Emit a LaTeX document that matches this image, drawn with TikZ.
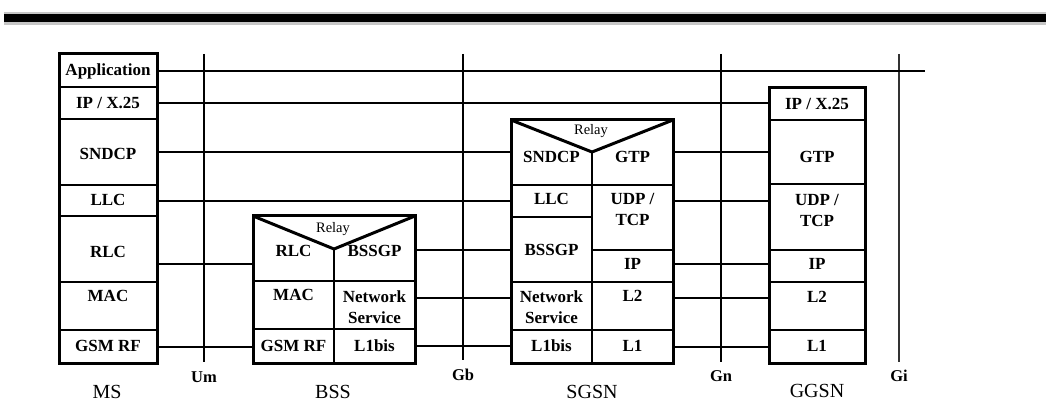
\documentclass[tikz,border=0pt]{standalone}
\usepackage{fontspec}
\setmainfont{Liberation Serif}
\begin{document}
\begin{tikzpicture}[x=1pt,y=-1pt,
  frame/.style={draw, line width=3pt, inner sep=0pt, outer sep=0pt},
  cellbox/.style={draw, line width=2.2pt, inner sep=0pt, outer sep=0pt},
  lbl/.style={font=\fontsize{17}{21}\selectfont\bfseries, align=center, inner sep=0pt},
  relay/.style={font=\fontsize{14.5}{16}\selectfont, inner sep=0pt},
  iflbl/.style={font=\fontsize{16.5}{18}\selectfont\bfseries, inner sep=0pt},
  nelbl/.style={font=\fontsize{20}{22}\selectfont, inner sep=0pt, anchor=base},
  conn/.style={line width=1.1pt},
  iface/.style={line width=1.8pt},
  vee/.style={line width=3pt, line join=miter}]
\useasboundingbox (0,0) rectangle (1046,403);
\newcommand\Cell[7]{%
  \node[cellbox, minimum width={(#4-#2)*1pt}, minimum height={(#5-#3)*1pt}] (#1) at ({(#2+#4)/2},{(#3+#5)/2}) {};
  \node[lbl] (#1-t) at ({(#2+#4)/2},#7) {#6};}
\newcommand\Frame[5]{%
  \node[frame, minimum width={(#4-#2)*1pt}, minimum height={(#5-#3)*1pt}] (#1) at ({(#2+#4)/2},{(#3+#5)/2}) {};}
% top bar
\fill[gray!45] (4,12) rectangle (1046,25);
\fill[black] (4,14) rectangle (1046,22);
% interfaces
\coordinate (um-top) at (204,54);  \coordinate (um-bot) at (204,362);
\coordinate (gb-top) at (463,54);  \coordinate (gb-bot) at (463,360);
\coordinate (gn-top) at (721,54);  \coordinate (gn-bot) at (721,362);
\coordinate (gi-top) at (899,54);  \coordinate (gi-bot) at (899,362);
\draw[iface] (um-top) -- (um-bot);
\draw[iface] (gb-top) -- (gb-bot);
\draw[iface] (gn-top) -- (gn-bot);
\draw[iface, black!80] (gi-top) -- (gi-bot);
\node[iflbl] (um) at (204,377) {Um};
\node[iflbl] (gb) at (463,375) {Gb};
\node[iflbl] (gn) at (721,376) {Gn};
\node[iflbl] (gi) at (899,376) {Gi};
% MS
\Cell{ms-app}{59}{54}{157}{87}{Application}{71}
\Cell{ms-ip}{59}{87}{157}{119}{IP / X.25}{103}
\Cell{ms-sndcp}{59}{119}{157}{185}{SNDCP}{154}
\Cell{ms-llc}{59}{185}{157}{216}{LLC}{200}
\Cell{ms-rlc}{59}{216}{157}{282}{RLC}{252}
\Cell{ms-mac}{59}{282}{157}{330}{MAC}{296}
\Cell{ms-gsm}{59}{330}{157}{363}{GSM RF}{346}
\Frame{ms}{59}{54}{157}{363}
% BSS
\Cell{bss-rlc}{253}{216}{334}{281}{RLC}{251}
\Cell{bss-bssgp}{334}{216}{415}{281}{BSSGP}{251}
\Cell{bss-mac}{253}{281}{334}{329}{MAC}{295}
\Cell{bss-ns}{334}{281}{415}{329}{Network\\Service}{307}
\Cell{bss-gsm}{253}{329}{334}{363}{GSM RF}{346}
\Cell{bss-l1}{334}{329}{415}{363}{L1bis}{346}
\fill[white] (253,216) -- (334,249) -- (415,216) -- cycle;
\Frame{bss}{253}{216}{415}{363}
\draw[vee] (bss.north west) -- (334,249) -- (bss.north east);
\node[relay] (bss-relay) at (333,229) {Relay};
% SGSN
\Cell{sgsn-sndcp}{511}{120}{592}{185}{SNDCP}{157}
\Cell{sgsn-gtp}{592}{120}{673}{185}{GTP}{157}
\Cell{sgsn-llc}{511}{185}{592}{217}{LLC}{199}
\Cell{sgsn-udp}{592}{185}{673}{250}{UDP /\\TCP}{209}
\Cell{sgsn-bssgp}{511}{217}{592}{282}{BSSGP}{250}
\Cell{sgsn-ip}{592}{250}{673}{282}{IP}{264}
\Cell{sgsn-ns}{511}{282}{592}{330}{Network\\Service}{307}
\Cell{sgsn-l2}{592}{282}{673}{330}{L2}{296}
\Cell{sgsn-l1bis}{511}{330}{592}{363}{L1bis}{346}
\Cell{sgsn-l1}{592}{330}{673}{363}{L1}{346}
\fill[white] (511,120) -- (592,152) -- (673,120) -- cycle;
\Frame{sgsn}{511}{120}{673}{363}
\draw[vee] (sgsn.north west) -- (592,152) -- (sgsn.north east);
\node[relay] (sgsn-relay) at (591,131) {Relay};
% GGSN
\Cell{ggsn-ip}{769}{88}{865}{120}{IP / X.25}{104}
\Cell{ggsn-gtp}{769}{120}{865}{184}{GTP}{157}
\Cell{ggsn-udp}{769}{184}{865}{250}{UDP /\\TCP}{210}
\Cell{ggsn-ipl}{769}{250}{865}{282}{IP}{264}
\Cell{ggsn-l2}{769}{282}{865}{330}{L2}{297}
\Cell{ggsn-l1}{769}{330}{865}{363}{L1}{346}
\Frame{ggsn}{769}{88}{865}{363}
% connectors
\coordinate (app-end) at (925,71);
\draw[conn] (ms-app.east |- 0,71) -- (app-end);
\draw[conn] (ms-ip.east |- 0,103) -- (ggsn-ip.west |- 0,103);
\draw[conn] (ms-sndcp.east |- 0,152) -- (sgsn-sndcp.west |- 0,152);
\draw[conn] (ms-llc.east |- 0,201) -- (sgsn-llc.west |- 0,201);
\draw[conn] (ms-rlc.east |- 0,264) -- (bss-rlc.west |- 0,264);
\draw[conn] (ms-gsm.east |- 0,347) -- (bss-gsm.west |- 0,347);
\draw[conn] (bss-bssgp.east |- 0,250) -- (sgsn-bssgp.west |- 0,250);
\draw[conn] (bss-ns.east |- 0,298) -- (sgsn-ns.west |- 0,298);
\draw[conn] (bss-l1.east |- 0,346) -- (sgsn-l1bis.west |- 0,346);
\draw[conn] (sgsn-gtp.east |- 0,152) -- (ggsn-gtp.west |- 0,152);
\draw[conn] (sgsn-udp.east |- 0,201) -- (ggsn-udp.west |- 0,201);
\draw[conn] (sgsn-ip.east |- 0,264) -- (ggsn-ipl.west |- 0,264);
\draw[conn] (sgsn-l2.east |- 0,298) -- (ggsn-l2.west |- 0,298);
\draw[conn] (sgsn-l1.east |- 0,347) -- (ggsn-l1.west |- 0,347);
% element labels
\node[nelbl] (ms-name) at (107,398) {MS};
\node[nelbl] (bss-name) at (333,398) {BSS};
\node[nelbl] (sgsn-name) at (592,398) {SGSN};
\node[nelbl] (ggsn-name) at (817,397) {GGSN};
\end{tikzpicture}
\end{document}
